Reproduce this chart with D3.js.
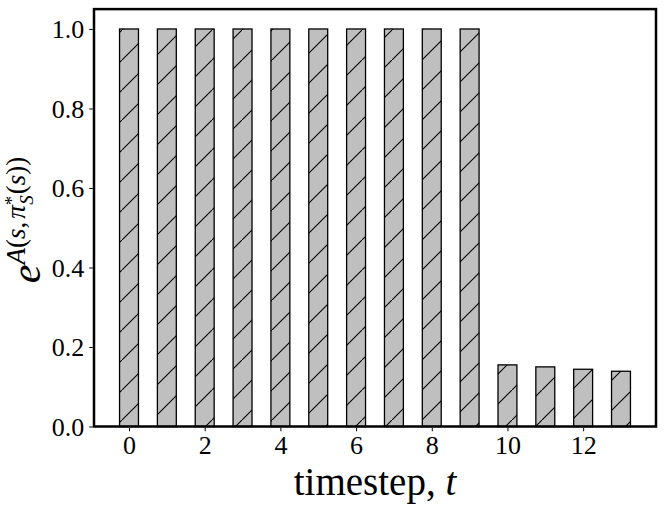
<!DOCTYPE html>
<html><head><meta charset="utf-8">
<script src="https://cdn.jsdelivr.net/npm/d3@7"></script>
<style>body{margin:0;background:#fff}svg{display:block}</style></head>
<body>
<script>
const timesteps = [0,1,2,3,4,5,6,7,8,9,10,11,12,13];
const values = [1,1,1,1,1,1,1,1,1,1,0.155,0.150,0.144,0.139];
const xTickValues = [0,2,4,6,8,10,12];
const yTickValues = [0,0.2,0.4,0.6,0.8,1.0];
const xLabel = "timestep, ";
const xLabelVar = "t";

const W = 664, H = 512;
const L = 94, R = 656, T = 9.1, B = 426.5;
const serif = "'Liberation Serif','DejaVu Serif',serif";

const svg = d3.select("body").append("svg").attr("width", W).attr("height", H);

const x = d3.scaleLinear().domain([-0.925, 13.925]).range([L, R]);
const y = d3.scaleLinear().domain([0, 1.05]).range([B, T]);

const defs = svg.append("defs");
const pat = defs.append("pattern").attr("id","hatch").attr("patternUnits","userSpaceOnUse")
  .attr("x",2).attr("y",0).attr("width",30).attr("height",30);
pat.append("rect").attr("width",30).attr("height",30).attr("fill","#bfbfbf");
pat.append("line").attr("x1",-2).attr("y1",32).attr("x2",32).attr("y2",-2)
  .attr("stroke","#000").attr("stroke-width",1.1);

const bw = x(0.5) - x(0);
svg.append("g").selectAll("rect").data(timesteps).join("rect")
  .attr("x", d => x(d) - bw/2)
  .attr("y", (d,i) => y(values[i]))
  .attr("width", bw)
  .attr("height", (d,i) => y(0) - y(values[i]))
  .attr("fill", "url(#hatch)")
  .attr("stroke", "#000").attr("stroke-width", 1.3);

// frame
svg.append("rect").attr("x",L).attr("y",T).attr("width",R-L).attr("height",B-T)
  .attr("fill","none").attr("stroke","#000").attr("stroke-width",2.5);

const xAxis = svg.append("g").attr("transform",`translate(0,${B+1.25})`)
  .call(d3.axisBottom(x).tickValues(xTickValues).tickFormat(d3.format("d")).tickSize(3.5).tickPadding(4));
const yAxis = svg.append("g").attr("transform",`translate(${L-1.25},0)`)
  .call(d3.axisLeft(y).tickValues(yTickValues).tickFormat(d3.format(".1f")).tickSize(3.5).tickPadding(5));
[xAxis,yAxis].forEach(a=>{
  a.select(".domain").remove();
  a.selectAll("line").attr("stroke","#000").attr("stroke-width",1);
  a.selectAll("text").attr("font-family",serif).attr("font-size",26).attr("fill","#000");
});
yAxis.selectAll("text").attr("dy","0.34em");
xAxis.selectAll("text").attr("dy","0.74em");

// x label
const xl = svg.append("text").attr("x",(L+R)/2).attr("y",495).attr("text-anchor","middle")
  .attr("font-family",serif).attr("font-size",39).attr("fill","#000");
xl.append("tspan").text(xLabel);
xl.append("tspan").attr("font-style","italic").text(xLabelVar);

// y label e^{A(s, pi*_S(s))}
const yl = svg.append("text").attr("transform",`translate(40,220) rotate(-90)`)
  .attr("text-anchor","middle").attr("font-family",serif).attr("fill","#000");
yl.append("tspan").attr("font-size",42).attr("font-style","italic").text("e");
yl.append("tspan").attr("font-size",27).attr("font-style","italic").attr("dy",-15).text("A");
yl.append("tspan").attr("font-size",27).text("(");
yl.append("tspan").attr("font-size",27).attr("font-style","italic").text("s");
yl.append("tspan").attr("font-size",27).text(",");
yl.append("tspan").attr("font-size",27).attr("font-style","italic").attr("dx",3).text("π");
yl.append("tspan").attr("font-size",19).attr("dy",-7).text("*");
yl.append("tspan").attr("font-size",19).attr("font-style","italic").attr("dx",-9).attr("dy",15).text("S");
yl.append("tspan").attr("font-size",27).attr("dy",-8).attr("dx",1).text("(");
yl.append("tspan").attr("font-size",27).attr("font-style","italic").text("s");
yl.append("tspan").attr("font-size",27).text("))");
</script>
</body></html>
